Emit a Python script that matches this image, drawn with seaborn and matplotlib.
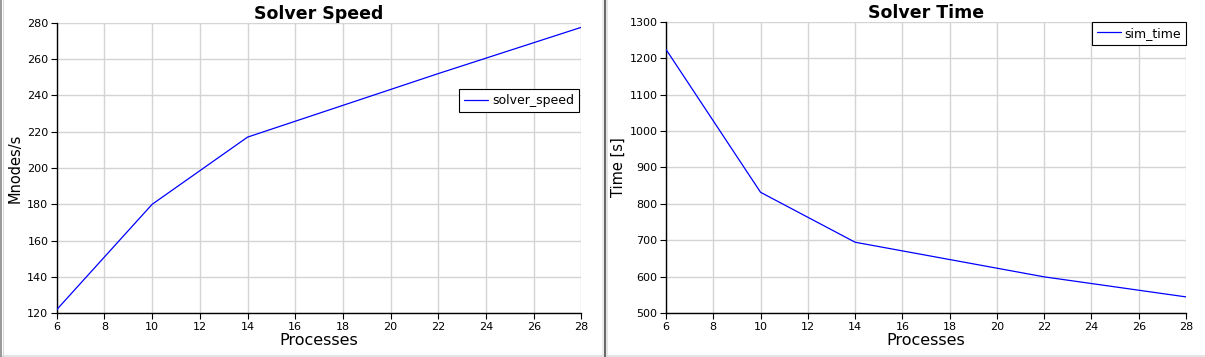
import matplotlib
matplotlib.use("Agg")
import matplotlib.pyplot as plt
from matplotlib.lines import Line2D
import seaborn as sns
import pandas as pd

processes = [6, 10, 14, 22, 28]
solver_speed = [122, 180, 217, 252, 277.5]
sim_time = [1224, 832, 695, 600, 545]

sns.set_style("white")
plt.rcParams['font.family'] = ['DejaVu Sans']
plt.rcParams['text.color'] = 'black'
plt.rcParams['axes.labelcolor'] = 'black'
plt.rcParams['xtick.color'] = 'black'
plt.rcParams['ytick.color'] = 'black'

W, H = 1205, 357
fig = plt.figure(figsize=(W / 100, H / 100), dpi=100)

def px_axes(x0, x1, ytop, ybot):
    return [x0 / W, 1 - ybot / H, (x1 - x0) / W, (ybot - ytop) / H]

ax1 = fig.add_axes(px_axes(56.7, 581.5, 22.7, 313.3))
ax2 = fig.add_axes(px_axes(666.0, 1186.0, 21.7, 313.3))

df1 = pd.DataFrame({"Processes": processes, "solver_speed": solver_speed})
df2 = pd.DataFrame({"Processes": processes, "sim_time": sim_time})

sns.lineplot(data=df1, x="Processes", y="solver_speed", ax=ax1, color="#0000ff",
             linewidth=0.9, label="solver_speed", zorder=3)
sns.lineplot(data=df2, x="Processes", y="sim_time", ax=ax2, color="#0000ff",
             linewidth=0.9, label="sim_time", zorder=3)

xticks = list(range(6, 29, 2))
for ax, title, ylabel, ylim, yticks in [
    (ax1, "Solver Speed", "Mnodes/s", (120, 280), list(range(120, 281, 20))),
    (ax2, "Solver Time", "Time [s]", (500, 1300), list(range(500, 1301, 100))),
]:
    ax.set_xlim(6, 28)
    ax.set_ylim(*ylim)
    ax.set_xticks(xticks)
    ax.set_yticks(yticks)
    ax.grid(True, color="#d4d4d4", linewidth=1.0)
    ax.set_axisbelow(True)
    for s in ["top", "right"]:
        ax.spines[s].set_visible(False)
    for s in ["left", "bottom"]:
        ax.spines[s].set_color("black")
        ax.spines[s].set_linewidth(1.0)
    ax.tick_params(axis="both", direction="out", length=4, width=0.8,
                   color="black", labelcolor="black", labelsize=8, pad=2,
                   left=True, bottom=True)
    ax.set_title(title, fontsize=12.5, fontweight="bold", pad=3, color="black")
    ax.set_xlabel("Processes", fontsize=11.5, labelpad=1, color="black")
    ax.set_ylabel(ylabel, fontsize=10.5, labelpad=3, color="black")

leg1 = ax1.legend(loc="upper right", bbox_to_anchor=(0.995, 0.771), borderaxespad=0,
                  fontsize=9, frameon=True, fancybox=False, handlelength=1.9,
                  handletextpad=0.3, borderpad=0.4)
leg2 = ax2.legend(loc="upper right", bbox_to_anchor=(1.0, 1.0), borderaxespad=0,
                  fontsize=9, frameon=True, fancybox=False, handlelength=1.9,
                  handletextpad=0.3, borderpad=0.4)
for leg in (leg1, leg2):
    fr = leg.get_frame()
    fr.set_edgecolor("black")
    fr.set_linewidth(0.8)
    fr.set_alpha(1)
    for t in leg.get_texts():
        t.set_color("black")

# panel borders
def vline(xpx, color, lw_px):
    fig.add_artist(Line2D([xpx / W, xpx / W], [0, 1], transform=fig.transFigure,
                          color=color, linewidth=lw_px * 0.72))

def hline(ypx, color, lw_px):
    fig.add_artist(Line2D([0, 1], [1 - ypx / H, 1 - ypx / H], transform=fig.transFigure,
                          color=color, linewidth=lw_px * 0.72))

hline(355.5, "#e4e4e4", 3)
vline(1.0, "#9a9a9a", 2)
vline(2.5, "#d8d8d8", 1)
vline(604.8, "#6a6a6a", 2)
vline(606.5, "#dcdcdc", 1.5)
vline(602.8, "#e6e6e6", 1.5)

fig.savefig("out.png", dpi=100)
